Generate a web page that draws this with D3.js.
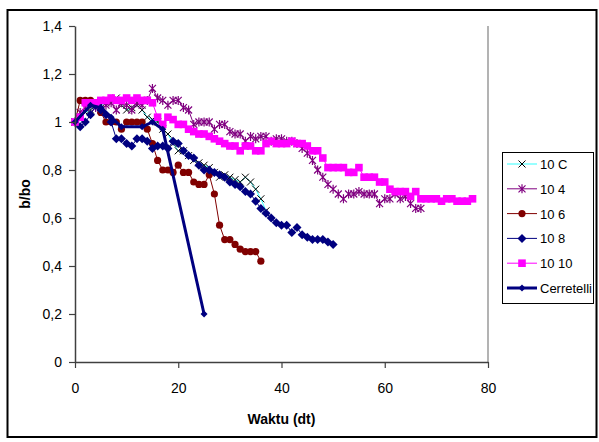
<!DOCTYPE html>
<html lang="en">
<head>
<meta charset="UTF-8" />
<title>b/bo terhadap waktu</title>
<script src="https://cdn.jsdelivr.net/npm/d3@7"></script>
<style>
  html, body { margin: 0; padding: 0; background: #fff; }
  svg { display: block; font-family: "Liberation Sans", Arial, sans-serif; }
</style>
</head>
<body>
<script>
// readings are one per second, starting at t = 0
const s10C = [1.00, 1.02, 1.04, 1.05, 1.07, 1.07, 1.08, 1.09, 1.10, 1.07, 1.05, 1.06, 1.07, 1.05, 1.02, 1.01, 1.00, 0.97, 0.95, 0.91,
  0.88, 0.88, 0.86, 0.84, 0.83, 0.82, 0.81, 0.79, 0.77, 0.78, 0.77, 0.76, 0.75, 0.77, 0.75, 0.72, 0.68, 0.63];
const s104 = [1.00, 1.04, 1.06, 1.08, 1.06, 1.05, 1.07, 1.08, 1.05, 1.08, 1.07, 1.05, 1.08, 1.07, 1.09, 1.14, 1.10, 1.09, 1.07, 1.09,
  1.09, 1.06, 1.05, 0.99, 1.00, 1.00, 1.00, 0.97, 0.99, 0.99, 0.96, 0.95, 0.95, 0.92, 0.94, 0.93, 0.94, 0.94, 0.92, 0.93,
  0.93, 0.92, 0.92, 0.91, 0.89, 0.87, 0.84, 0.80, 0.77, 0.74, 0.72, 0.70, 0.68, 0.70, 0.70, 0.71, 0.70, 0.70, 0.70, 0.66,
  0.68, 0.68, 0.70, 0.68, 0.69, 0.66, 0.64, 0.64];
const s106 = [1.00, 1.09, 1.09, 1.09, 1.08, 1.04, 1.00, 1.00, 1.00, 0.97, 1.00, 1.00, 1.00, 1.00, 0.97, 0.91, 0.84, 0.80, 0.80, 0.79,
  0.82, 0.79, 0.79, 0.75, 0.74, 0.74, 0.78, 0.70, 0.57, 0.51, 0.51, 0.49, 0.47, 0.46, 0.46, 0.46, 0.42];
const s108 = [1.00, 0.98, 1.00, 1.03, 1.07, 1.05, 1.03, 1.00, 0.93, 0.93, 0.91, 0.90, 0.93, 0.93, 0.92, 0.89, 0.90, 0.90, 0.89, 0.92,
  0.91, 0.88, 0.86, 0.85, 0.82, 0.80, 0.80, 0.79, 0.78, 0.77, 0.75, 0.74, 0.73, 0.71, 0.70, 0.67, 0.64, 0.62, 0.60, 0.58,
  0.57, 0.57, 0.54, 0.56, 0.53, 0.52, 0.51, 0.51, 0.51, 0.50, 0.49];
const s1010 = [1.00, 1.02, 1.08, 1.08, 1.08, 1.09, 1.09, 1.10, 1.09, 1.09, 1.10, 1.09, 1.10, 1.09, 1.09, 1.08, 1.02, 0.99, 1.02, 1.01,
  0.99, 0.99, 0.97, 0.96, 0.95, 0.95, 0.94, 0.93, 0.92, 0.91, 0.90, 0.90, 0.88, 0.90, 0.90, 0.88, 0.88, 0.91, 0.92, 0.91,
  0.91, 0.91, 0.92, 0.91, 0.91, 0.90, 0.88, 0.88, 0.85, 0.81, 0.81, 0.81, 0.81, 0.79, 0.79, 0.81, 0.77, 0.77, 0.77, 0.75,
  0.75, 0.72, 0.71, 0.71, 0.71, 0.69, 0.71, 0.68, 0.68, 0.68, 0.68, 0.67, 0.68, 0.68, 0.67, 0.67, 0.67, 0.68];
const cerretelliT = [0, 3, 5, 7, 9, 13, 15, 17, 25];
const cerretelliV = [1.00, 1.07, 1.06, 1.02, 0.98, 0.98, 1.00, 0.97, 0.20];

const xTicks = [0, 20, 40, 60, 80];
const yTicks = [0, 0.2, 0.4, 0.6, 0.8, 1, 1.2, 1.4];

const width = 599, height = 442;
const plot = { left: 75, right: 488, top: 26, bottom: 362 };

const x = d3.scaleLinear().domain([0, 80]).range([plot.left, plot.right]);
const y = d3.scaleLinear().domain([0, 1.4]).range([plot.bottom, plot.top]);

const perSecond = vals => vals.map((v, i) => [i, v]);

const series = [
  { name: '10 C', data: perSecond(s10C), color: '#33ffff', lw: 1, marker: 'cross', mcolor: '#000' },
  { name: '10 4', data: perSecond(s104), color: '#800080', lw: 1, marker: 'star', mcolor: '#800080' },
  { name: '10 6', data: perSecond(s106), color: '#800000', lw: 1, marker: 'circle', mcolor: '#800000' },
  { name: '10 8', data: perSecond(s108), color: '#000080', lw: 1, marker: 'diamond', mcolor: '#000080' },
  { name: '10 10', data: perSecond(s1010), color: '#ff00ff', lw: 1, marker: 'square', mcolor: '#ff00ff' },
  { name: 'Cerretelli', data: cerretelliT.map((t, i) => [t, cerretelliV[i]]), color: '#000080', lw: 3, marker: 'smalldiamond', mcolor: '#000080' },
];

function drawMarker(g, type, color) {
  if (type === 'cross') {
    g.append('path').attr('d', 'M-3.5,-3.5L3.5,3.5M-3.5,3.5L3.5,-3.5')
      .attr('stroke', color).attr('stroke-width', 1).attr('fill', 'none');
  } else if (type === 'star') {
    g.append('path').attr('d', 'M-3.5,-3.5L3.5,3.5M-3.5,3.5L3.5,-3.5M0,-4.5L0,4.5')
      .attr('stroke', color).attr('stroke-width', 1.2).attr('fill', 'none');
  } else if (type === 'circle') {
    g.append('circle').attr('r', 3.6).attr('fill', color);
  } else if (type === 'diamond') {
    g.append('path').attr('d', 'M0,-4.5L4.5,0L0,4.5L-4.5,0Z').attr('fill', color);
  } else if (type === 'smalldiamond') {
    g.append('path').attr('d', 'M0,-3.5L3.5,0L0,3.5L-3.5,0Z').attr('fill', color);
  } else if (type === 'square') {
    g.append('rect').attr('x', -3.8).attr('y', -3.8).attr('width', 7.6).attr('height', 7.6).attr('fill', color);
  }
}

const svg = d3.select('body').append('svg')
  .attr('width', width)
  .attr('height', height);

svg.append('rect')
  .attr('x', 7.5).attr('y', 10)
  .attr('width', 589).attr('height', 427)
  .attr('fill', '#fff')
  .attr('stroke', '#000')
  .attr('stroke-width', 2);

// right edge of the plot area
svg.append('line')
  .attr('x1', plot.right).attr('x2', plot.right)
  .attr('y1', plot.top).attr('y2', plot.bottom)
  .attr('stroke', '#9a9a9a')
  .attr('stroke-width', 1.5);

const line = d3.line().x(d => x(d[0])).y(d => y(d[1]));

series.forEach(s => {
  const g = svg.append('g');
  g.append('path')
    .attr('d', line(s.data))
    .attr('fill', 'none')
    .attr('stroke', s.color)
    .attr('stroke-width', s.lw)
    .attr('stroke-linejoin', 'round');
  g.selectAll('g.m')
    .data(s.data)
    .join('g')
    .attr('class', 'm')
    .attr('transform', d => `translate(${x(d[0])},${y(d[1])})`)
    .each(function() { drawMarker(d3.select(this), s.marker, s.mcolor); });
});

const fmt = d => String(+d.toFixed(1)).replace('.', ',');

const yAxis = svg.append('g')
  .attr('transform', `translate(${plot.left},0)`)
  .call(d3.axisLeft(y).tickValues(yTicks).tickFormat(fmt).tickSize(6).tickSizeOuter(0).tickPadding(7));

const xAxis = svg.append('g')
  .attr('transform', `translate(0,${plot.bottom})`)
  .call(d3.axisBottom(x).tickValues(xTicks).tickFormat(fmt).tickSize(6).tickSizeOuter(0).tickPadding(15));

[xAxis, yAxis].forEach(a => {
  a.select('.domain').attr('stroke', '#404040').attr('stroke-width', 1.5);
  a.selectAll('.tick line').attr('stroke', '#404040').attr('stroke-width', 1.2);
  a.selectAll('.tick text')
    .attr('fill', '#000')
    .style('font-size', '14px')
    .style('font-family', '"Liberation Sans", Arial, sans-serif');
});

svg.append('text')
  .attr('transform', `translate(30,${(plot.top + plot.bottom) / 2}) rotate(-90)`)
  .attr('text-anchor', 'middle')
  .style('font-size', '14px')
  .style('font-weight', 'bold')
  .text('b/bo');

svg.append('text')
  .attr('x', (plot.left + plot.right) / 2)
  .attr('y', 424)
  .attr('text-anchor', 'middle')
  .style('font-size', '14px')
  .style('font-weight', 'bold')
  .text('Waktu (dt)');

// legend
const lg = { x: 502, y: 152, w: 92, h: 152 };
svg.append('clipPath').attr('id', 'legclip')
  .append('rect').attr('x', lg.x).attr('y', lg.y).attr('width', lg.w).attr('height', lg.h);

const legend = svg.append('g').attr('clip-path', 'url(#legclip)');
legend.append('rect')
  .attr('x', lg.x + 0.5).attr('y', lg.y + 0.5)
  .attr('width', lg.w - 1).attr('height', lg.h - 1)
  .attr('fill', '#fff')
  .attr('stroke', '#000');

series.forEach((s, i) => {
  const cy = 164 + i * 24.8;
  const item = legend.append('g');
  item.append('line')
    .attr('x1', 507).attr('x2', 537)
    .attr('y1', cy).attr('y2', cy)
    .attr('stroke', s.color)
    .attr('stroke-width', s.lw);
  drawMarker(item.append('g').attr('transform', `translate(522,${cy})`), s.marker, s.mcolor);
  item.append('text')
    .attr('x', 540).attr('y', cy + 5)
    .style('font-size', '13px')
    .text(s.name);
});
</script>
</body>
</html>
